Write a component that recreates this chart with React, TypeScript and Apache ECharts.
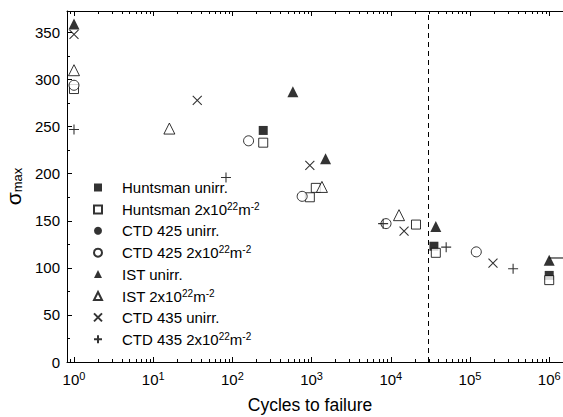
import React, { useEffect, useRef } from "react";
import * as echarts from "echarts";

// ---- data (cycles to failure, sigma max) ----
const seriesNames = [
  "Huntsman unirr.",
  "Huntsman 2x10²²m⁻²",
  "CTD 425 unirr.",
  "CTD 425 2x10²²m⁻²",
  "IST unirr.",
  "IST 2x10²²m⁻²",
  "CTD 435 unirr.",
  "CTD 435 2x10²²m⁻²",
];
const legendRich = [
  "{a|Huntsman unirr.}",
  "{a|Huntsman 2x10}{s|22}{a|m}{s|-2}",
  "{a|CTD 425 unirr.}",
  "{a|CTD 425 2x10}{s|22}{a|m}{s|-2}",
  "{a|IST unirr.}",
  "{a|IST 2x10}{s|22}{a|m}{s|-2}",
  "{a|CTD 435 unirr.}",
  "{a|CTD 435 2x10}{s|22}{a|m}{s|-2}",
];

const huntsmanUnirr = [[245, 246], [35000, 123], [1e6, 92]];
const huntsmanIrr = [[1, 290], [245, 233], [950, 175], [1130, 185], [20800, 146], [37000, 116], [1e6, 87]];
const ctd425Unirr: number[][] = [];
const ctd425Irr = [[1, 294], [160, 235], [760, 176], [8700, 147], [120000, 117]];
const istUnirr = [[1, 359], [580, 287], [1500, 216], [37000, 144], [1e6, 108]];
const istIrr = [[1, 310], [16, 248], [1350, 186], [12700, 156]];
const ctd435Unirr = [[1, 348], [36, 278], [950, 209], [14700, 139], [195000, 105]];
const ctd435Irr = [[1, 247], [83, 196], [8000, 147], [50000, 122], [350000, 99]];
const runout = [[1e6, 110.5], [1.5e6, 110.5]];
const enduranceLimit = 30000;

const xMin = 0.816;
const xMax = 1.493e6;
const yMin = 0;
const yMax = 372.9;
const yInterval = 50;

const xMinorTicks: number[] = [0.9];
for (let k = 0; k <= 5; k++) for (let m = 2; m <= 9; m++) xMinorTicks.push(m * Math.pow(10, k));
const yMinorTicks = [25, 75, 125, 175, 225, 275, 325];

const FONT = "'Liberation Sans', Arial, sans-serif";
const PATH_X = "path://M0,0L10,10M10,0L0,10";
const PATH_PLUS = "path://M5,0L5,10M0,5L10,5";

const filled = { color: "#000", borderColor: "#000", borderWidth: 0 };
const open = { color: "#fff", borderColor: "#000", borderWidth: 1 };
const stroke = { color: "transparent", borderColor: "#000", borderWidth: 1.1 };

export default function App() {
  const ref = useRef<HTMLDivElement>(null);
  useEffect(() => {
    if (!ref.current) return;
    const chart = echarts.init(ref.current, null, { renderer: "svg" });
    const isPow10 = (v: number) => Math.abs(Math.log10(v) - Math.round(Math.log10(v))) < 1e-6;
    const mk = (name: string, data: number[][], symbol: string, size: number, style: any, z = 3) => ({
      name,
      type: "scatter",
      data,
      symbol,
      symbolSize: size,
      itemStyle: style,
      z,
      silent: true,
    });
    const tickData = [
      ...xMinorTicks.map((v) => [v, 100, 0]),
      ...yMinorTicks.map((v) => [1, v, 1]),
    ];
    chart.setOption({
      animation: false,
      textStyle: { fontFamily: FONT, color: "#000" },
      grid: { left: 67, top: 11, right: 0, bottom: 55, containLabel: false, outerBoundsMode: "none" },
      legend: {
        orient: "vertical",
        left: 93,
        top: 180,
        padding: 0,
        itemWidth: 8,
        itemHeight: 8,
        itemGap: 6.4,
        data: seriesNames,
        selectedMode: false,
        formatter: (n: string) => legendRich[seriesNames.indexOf(n)],
        textStyle: {
          fontFamily: FONT,
          color: "#000",
          padding: [0, 0, 0, 15],
          rich: {
            a: { fontSize: 15, lineHeight: 16, fontFamily: FONT, color: "#000" },
            s: { fontSize: 10, lineHeight: 9, verticalAlign: "top", fontFamily: FONT, color: "#000" },
          },
        },
      },
      xAxis: [
        {
          type: "log",
          logBase: 10,
          min: xMin,
          max: xMax,
          position: "bottom",
          name: "Cycles to failure",
          nameLocation: "middle",
          nameGap: 34,
          nameTextStyle: { fontSize: 17.5, fontFamily: FONT, color: "#000", padding: [0, 10, 0, 0] },
          axisLine: { show: true, lineStyle: { color: "#000", width: 1 } },
          axisTick: { show: true, inside: true, length: 5, lineStyle: { color: "#000" } },
          splitLine: { show: false },
          axisLabel: {
            margin: 8,
            formatter: (v: number) => (isPow10(v) ? `{b|10}{s|${Math.round(Math.log10(v))}}` : ""),
            rich: {
              b: { fontSize: 15, lineHeight: 18, fontFamily: FONT, color: "#000" },
              s: { fontSize: 11, lineHeight: 10, verticalAlign: "top", fontFamily: FONT, color: "#000" },
            },
          },
        },
        {
          type: "log",
          logBase: 10,
          min: xMin,
          max: xMax,
          position: "top",
          axisLine: { show: true, lineStyle: { color: "#000", width: 1 } },
          axisTick: { show: true, inside: true, length: 5, lineStyle: { color: "#000" } },
          axisLabel: { show: false },
          splitLine: { show: false },
        },
      ],
      yAxis: {
        type: "value",
        min: yMin,
        max: yMax,
        interval: yInterval,
        name: "{s|σ}{sub|max}",
        nameLocation: "middle",
        nameRotate: 90,
        nameGap: 20,
        nameTextStyle: {
          rich: {
            s: { fontSize: 21, lineHeight: 22, fontFamily: FONT, color: "#000" },
            sub: { fontSize: 13, lineHeight: 12, verticalAlign: "bottom", fontFamily: FONT, color: "#000" },
          },
        },
        axisLine: { show: true, lineStyle: { color: "#000", width: 1 } },
        axisTick: { show: true, inside: true, length: 5, lineStyle: { color: "#000" } },
        splitLine: { show: false },
        axisLabel: {
          margin: 7,
          fontSize: 15,
          fontFamily: FONT,
          color: "#000",
          formatter: (v: number) => (Math.abs(v % yInterval) < 1e-6 ? String(v) : ""),
        },
      },
      series: [
        {
          name: "ticks",
          type: "custom",
          data: tickData,
          encode: { x: 0, y: 1 },
          silent: true,
          z: 1,
          renderItem: (params: any, api: any) => {
            const kind = api.value(2);
            const cs = params.coordSys;
            const st = { stroke: "#000", lineWidth: 1 };
            if (kind === 0) {
              const px = Math.round(api.coord([api.value(0), 100])[0]) + 0.5;
              return {
                type: "group",
                children: [
                  { type: "line", shape: { x1: px, y1: cs.y + cs.height, x2: px, y2: cs.y + cs.height - 3 }, style: st },
                  { type: "line", shape: { x1: px, y1: cs.y, x2: px, y2: cs.y + 3 }, style: st },
                ],
              };
            }
            const py = Math.round(api.coord([1, api.value(1)])[1]) + 0.5;
            return { type: "line", shape: { x1: cs.x, y1: py, x2: cs.x + 3, y2: py }, style: st };
          },
        },
        {
          name: "runout",
          type: "line",
          data: runout,
          symbol: "none",
          lineStyle: { color: "#000", width: 1 },
          silent: true,
          z: 2,
          markLine: {
            silent: true,
            symbol: "none",
            label: { show: false },
            lineStyle: { color: "#000", width: 1, type: [5, 4] },
            data: [{ xAxis: enduranceLimit }],
          },
        },
        mk(seriesNames[0], huntsmanUnirr, "rect", 9, filled),
        mk(seriesNames[1], huntsmanIrr, "rect", 9, open),
        mk(seriesNames[2], ctd425Unirr, "circle", 10, filled),
        mk(seriesNames[3], ctd425Irr, "circle", 10, open),
        mk(seriesNames[4], istUnirr, "triangle", 11, filled),
        mk(seriesNames[5], istIrr, "triangle", 11, open),
        mk(seriesNames[6], ctd435Unirr, PATH_X, 9, stroke),
        mk(seriesNames[7], ctd435Irr, PATH_PLUS, 10, stroke),
      ],
    });
    return () => chart.dispose();
  }, []);
  return (
    <div
      ref={ref}
      style={{ position: "fixed", left: 0, top: 0, width: 563, height: 417, background: "#fff" }}
    />
  );
}
